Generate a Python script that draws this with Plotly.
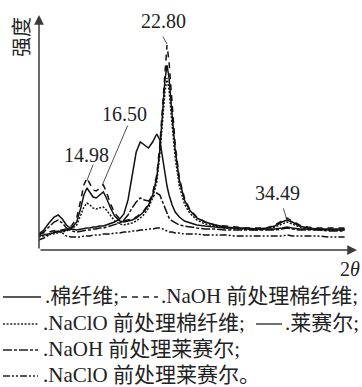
import plotly.graph_objects as go

# ---------------- data (intensity in arbitrary units) -------------
two_theta = [10.3, 10.8, 11.3, 11.8, 12.2, 12.6, 13.0, 13.5, 14.0, 14.4,
             14.7, 15.0, 15.3, 15.6, 15.9, 16.2, 16.6, 16.9, 17.3, 17.7,
             18.2, 18.6, 19.0, 19.4, 19.8, 20.2, 20.6, 21.0, 21.4, 21.8,
             22.1, 22.4, 22.6, 22.8, 23.0, 23.3, 23.6, 24.0, 24.5, 25.0,
             25.7, 26.5, 27.5, 28.5, 29.5, 30.5, 31.5, 32.5, 33.3, 34.0,
             34.5, 35.0, 35.7, 36.5, 37.5, 38.5, 39.3, 40.1]

cotton = [14, 15, 16, 17, 18, 19, 20, 22, 28, 42,
          55, 62, 58, 53, 52, 55, 58, 52, 42, 34,
          29, 28, 29, 30, 32, 35, 39, 45, 55, 72,
          100, 140, 170, 185, 172, 135, 100, 70, 50, 40,
          32, 28, 25, 23, 22, 22, 21, 22, 24, 28,
          30, 28, 24, 22, 21, 21, 21, 21]

naoh_cotton = [16, 17, 18, 19, 20, 20, 21, 24, 32, 50,
               65, 72, 66, 60, 59, 62, 65, 58, 46, 37,
               31, 29, 30, 31, 33, 36, 40, 46, 57, 75,
               105, 150, 185, 205, 188, 145, 105, 72, 52, 41,
               33, 28, 25, 24, 23, 22, 22, 22, 25, 29,
               32, 29, 25, 23, 22, 22, 22, 22]

naclo_cotton = [13, 14, 15, 16, 17, 18, 19, 21, 25, 35,
                43, 47, 45, 42, 41, 42, 43, 40, 34, 29,
                26, 25, 26, 27, 29, 32, 36, 42, 52, 68,
                95, 130, 158, 172, 160, 125, 92, 64, 46, 37,
                30, 26, 24, 22, 21, 21, 20, 21, 23, 26,
                28, 26, 23, 21, 20, 20, 20, 20]

lyocell = [16, 20, 27, 33, 35, 31, 25, 21, 20, 21,
           21, 22, 22, 23, 23, 24, 24, 25, 26, 28,
           31, 36, 50, 75, 98, 108, 105, 102, 108, 116,
           110, 90, 76, 64, 55, 45, 38, 33, 29, 27,
           25, 24, 23, 22, 22, 21, 21, 21, 21, 22,
           23, 22, 21, 21, 21, 20, 20, 20]

naoh_lyocell = [15, 18, 23, 28, 30, 27, 22, 19, 18, 19,
                19, 20, 20, 21, 21, 22, 22, 23, 24, 25,
                27, 30, 35, 42, 48, 52, 50, 49, 53, 57,
                55, 47, 41, 36, 32, 29, 27, 25, 24, 23,
                22, 21, 21, 20, 20, 20, 20, 20, 20, 21,
                22, 21, 20, 20, 20, 19, 19, 19]

naclo_lyocell = [10, 12, 15, 18, 19, 17, 14, 13, 13, 13,
                 14, 14, 14, 15, 15, 15, 16, 16, 16, 17,
                 17, 18, 18, 19, 19, 20, 20, 21, 21, 22,
                 22, 21, 20, 19, 18, 18, 17, 17, 16, 16,
                 16, 15, 15, 15, 14, 14, 14, 14, 14, 14,
                 15, 14, 14, 14, 14, 13, 13, 13]

series_names = ["棉纤维", "NaOH 前处理棉纤维", "NaClO 前处理棉纤维",
                "莱赛尔", "NaOH 前处理莱赛尔", "NaClO 前处理莱赛尔"]
series_values = [cotton, naoh_cotton, naclo_cotton, lyocell, naoh_lyocell, naclo_lyocell]

peak_labels = ["14.98", "16.50", "22.80", "34.49"]
peak_positions = [14.98, 16.50, 22.80, 34.49]
peak_heights = [69, 65, 206, 30]

x_range = [10.33, 41.31]
y_range = [0, 235]

# ---------------- styles -------------
W, H = 362, 387
ML, MR, MT, MB = 39, 5, 15, 137
PW = W - ML - MR
PH = H - MT - MB

FONT = "Liberation Serif, Noto Sans CJK SC, serif"
INK = "#111111"
AXIS = "#3a3a3a"
dashes = ["solid", "6px,5px", "2px,1.6px", "solid", "9px,2px,3px,2px", "7px,2px,2px,2px,2px,2px"]


def pxx(xp):
    return (xp - ML) / PW


def pxy(yp):
    return (H - MB - yp) / PH


fig = go.Figure()
for name, vals, dash in zip(series_names, series_values, dashes):
    fig.add_trace(go.Scatter(x=two_theta, y=vals, mode="lines", name=name,
                             line=dict(color=INK, width=1.5, dash=dash),
                             showlegend=False, hoverinfo="skip"))

annotations = []
shapes = []

# axis arrows
annotations.append(dict(x=1, y=0, xref="paper", yref="paper", ax=-PW, ay=0,
                        axref="pixel", ayref="pixel", text="", showarrow=True,
                        arrowhead=2, arrowsize=1.3, arrowwidth=1.5, arrowcolor=AXIS))
annotations.append(dict(x=0, y=1, xref="paper", yref="paper", ax=0, ay=PH,
                        axref="pixel", ayref="pixel", text="", showarrow=True,
                        arrowhead=2, arrowsize=1.3, arrowwidth=1.5, arrowcolor=AXIS))

# axis titles
annotations.append(dict(x=pxx(22), y=pxy(37), xref="paper", yref="paper", text="强度",
                        textangle=-90, showarrow=False, xanchor="center", yanchor="middle",
                        font=dict(family=FONT, size=20, color="#222")))
annotations.append(dict(x=pxx(350), y=pxy(269), xref="paper", yref="paper",
                        text="2<i>θ</i>", showarrow=False, xanchor="center", yanchor="middle",
                        font=dict(family=FONT, size=20, color="#222")))

# peak labels: (leader start offset), (text offset)
leader_offsets = [(7, -18), (26, -61), (-5, -9), (-4, -13)]
text_offsets = [(0, 26), (22, 71), (-4, 23), (-9, 27)]
for lab, xp, yp, (lx, ly), (tx, ty) in zip(peak_labels, peak_positions, peak_heights,
                                           leader_offsets, text_offsets):
    annotations.append(dict(x=xp, y=yp, xref="x", yref="y", ax=lx, ay=ly,
                            text="", showarrow=True, arrowhead=0, arrowwidth=0.8,
                            arrowcolor="#222"))
    annotations.append(dict(x=xp, y=yp, xref="x", yref="y", text=lab, showarrow=False,
                            xshift=tx, yshift=ty, xanchor="center", yanchor="middle",
                            font=dict(family=FONT, size=20, color="#222")))

# legend (text lines under the chart)
legend_rows = [
    (0, 3, 41, 297, 43),
    (1, 121, 158, 297, 159),
    (2, 3, 38, 324, 41),
    (3, 256, 282, 324, 283),
    (4, 3, 38, 350, 41),
    (5, 3, 38, 376, 41),
]
for idx, x0, x1, yline, xt in legend_rows:
    shapes.append(dict(type="line", xref="paper", yref="paper",
                       x0=pxx(x0), x1=pxx(x1), y0=pxy(yline), y1=pxy(yline),
                       line=dict(color="#222", width=1.3, dash=dashes[idx])))
    end = "。" if idx == 5 else ";"
    annotations.append(dict(x=pxx(xt), y=pxy(yline - 1), xref="paper", yref="paper",
                            text="." + series_names[idx] + end, showarrow=False,
                            xanchor="left", yanchor="middle",
                            font=dict(family=FONT, size=21, color="#222")))

fig.update_layout(
    width=W, height=H,
    margin=dict(l=ML, r=MR, t=MT, b=MB, pad=0),
    paper_bgcolor="white", plot_bgcolor="white",
    xaxis=dict(range=x_range, showgrid=False, zeroline=False, showline=False,
               showticklabels=False, ticks=""),
    yaxis=dict(range=y_range, showgrid=False, zeroline=False, showline=False,
               showticklabels=False, ticks=""),
    annotations=annotations, shapes=shapes,
)

fig.write_html(
    "out.html",
    config={"displayModeBar": False, "staticPlot": True},
    post_script="document.body.style.margin='0';document.body.style.padding='0';"
                "document.body.style.overflow='hidden';"
                "document.documentElement.style.overflow='hidden';",
)
